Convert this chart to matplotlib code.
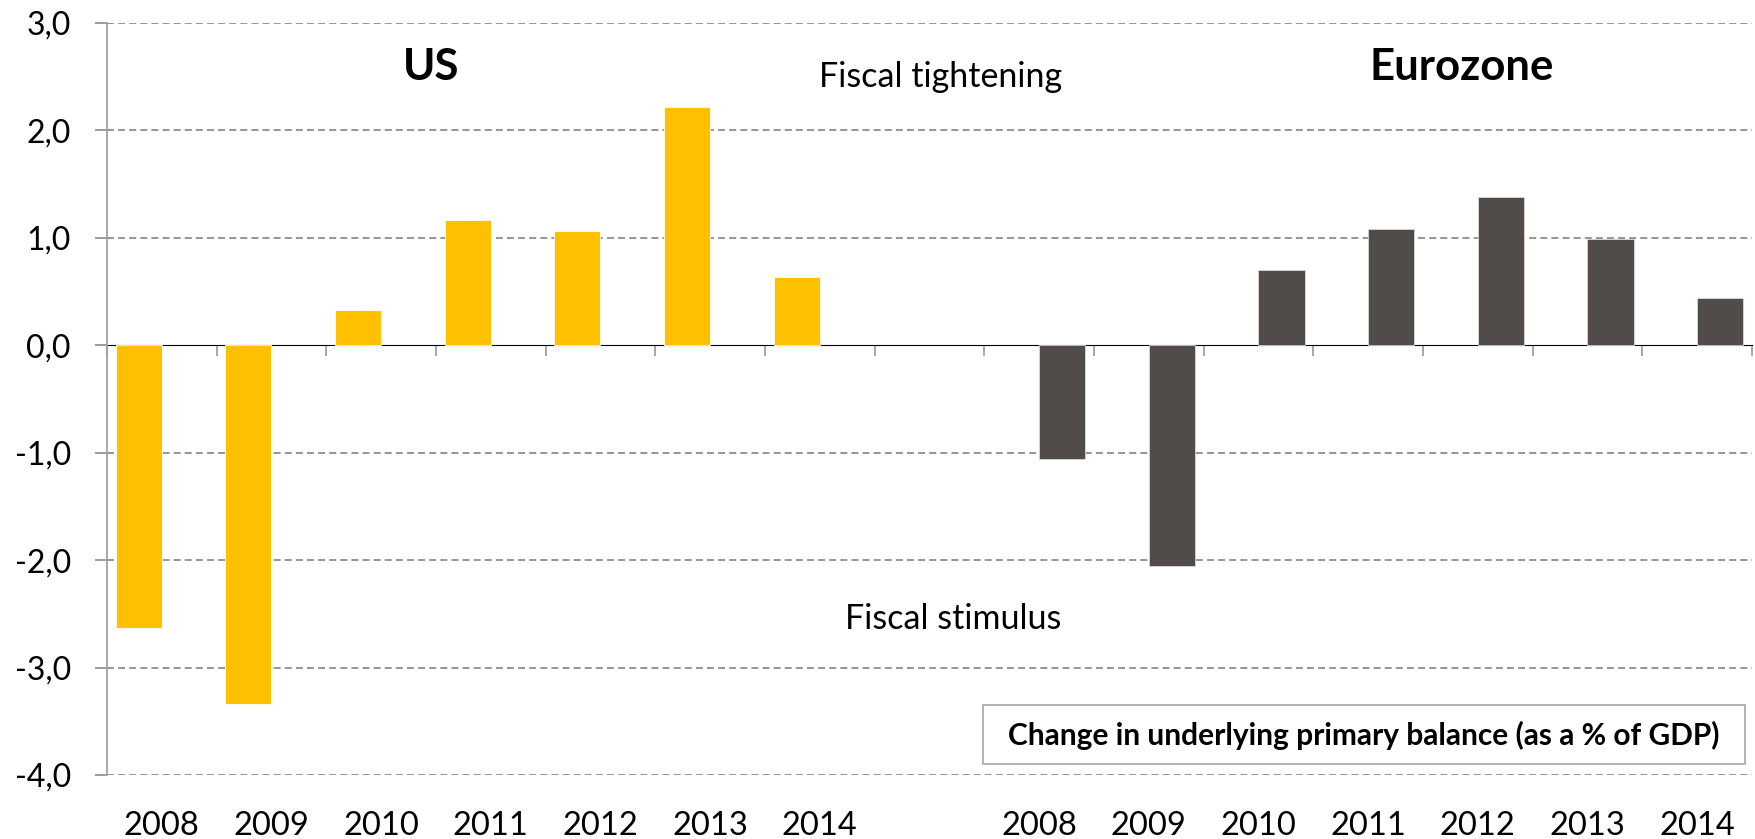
import numpy as np
import matplotlib.pyplot as plt
from matplotlib.patches import Rectangle

plt.rcParams['font.family'] = ['Lato', 'DejaVu Sans']
plt.rcParams['lines.scale_dashes'] = False

years = ['2008', '2009', '2010', '2011', '2012', '2013', '2014']
us_values = [-2.63, -3.34, 0.33, 1.17, 1.06, 2.22, 0.64]
ez_values = [-1.06, -2.05, 0.70, 1.08, 1.38, 0.99, 0.44]
labels = years + [''] + years

us_color = '#FFC000'
ez_color = '#514C4A'
grey = '#8C8C8C'

n = len(labels)
x_us = np.arange(len(us_values))
x_ez = np.arange(len(years) + 1, n)
bar_w = 0.42

fig = plt.figure(figsize=(17.56, 8.39), dpi=100)
ax = fig.add_axes([107 / 1756, 1 - 775 / 839, (1752 - 107) / 1756, (775 - 23) / 839])

ax.bar(x_us - bar_w / 2, us_values, width=bar_w, color=us_color,
       edgecolor='white', linewidth=0.6, zorder=3)
ax.bar(x_ez + bar_w / 2, ez_values, width=bar_w, color=ez_color,
       edgecolor='#D9D9D9', linewidth=0.6, zorder=3)

ax.set_xlim(-0.5, n - 0.5)
ax.set_ylim(-4, 3)
ax.set_yticks(np.arange(-4, 4, 1))
ax.set_yticklabels([f'{v:.1f}'.replace('.', ',') for v in np.arange(-4, 4, 1)])
ax.set_xticks(np.arange(n))
ax.set_xticklabels(labels)

ax.tick_params(axis='y', length=9, width=1.2, color=grey, pad=17, labelsize=23)
ax.tick_params(axis='x', length=0, pad=26, labelsize=23.5)

# dashed horizontal gridlines
for y in np.arange(-4, 4, 1):
    if y == 0:
        continue
    ax.axhline(y, color=grey, lw=1.3, linestyle=(0, (5, 3)), zorder=1)

for side in ['top', 'right', 'bottom']:
    ax.spines[side].set_visible(False)
ax.spines['left'].set_color('#A0A0A0')
ax.spines['left'].set_linewidth(1.3)

# category axis drawn at zero with tick marks between categories
sec = ax.secondary_xaxis(location=4 / 7)
sec.set_xticks(np.arange(-0.5, n, 1))
sec.set_xticklabels([])
sec.tick_params(axis='x', direction='out', length=8, width=1.3, color='#A0A0A0',
                labelbottom=False, labeltop=False, bottom=True, top=False)
sec.xaxis.set_ticks_position('bottom')
sec.spines['bottom'].set_color('#A0A0A0')
sec.spines['bottom'].set_linewidth(1.5)
sec.spines['bottom'].set_zorder(4)

ax.text(2.46, 2.59, 'US', fontsize=31.5, fontweight='bold', ha='center', va='center')
ax.text(11.85, 2.59, 'Eurozone', fontsize=31.5, fontweight='bold', ha='center', va='center')
ax.text(7.1, 2.5, 'Fiscal tightening', fontsize=24.5, ha='center', va='center')
ax.text(7.22, -2.55, 'Fiscal stimulus', fontsize=24.5, ha='center', va='center')

ax.add_patch(Rectangle((0.5325, 0.0146), 0.4632, 0.0785, transform=ax.transAxes,
                       facecolor='white', edgecolor='#A6A6A6', lw=1.2, zorder=5))
ax.text(0.764, 0.053, 'Change in underlying primary balance (as a % of GDP)',
        transform=ax.transAxes, fontsize=21.5, fontweight='bold', ha='center',
        va='center', zorder=6)

fig.savefig('out.png', dpi=100)
